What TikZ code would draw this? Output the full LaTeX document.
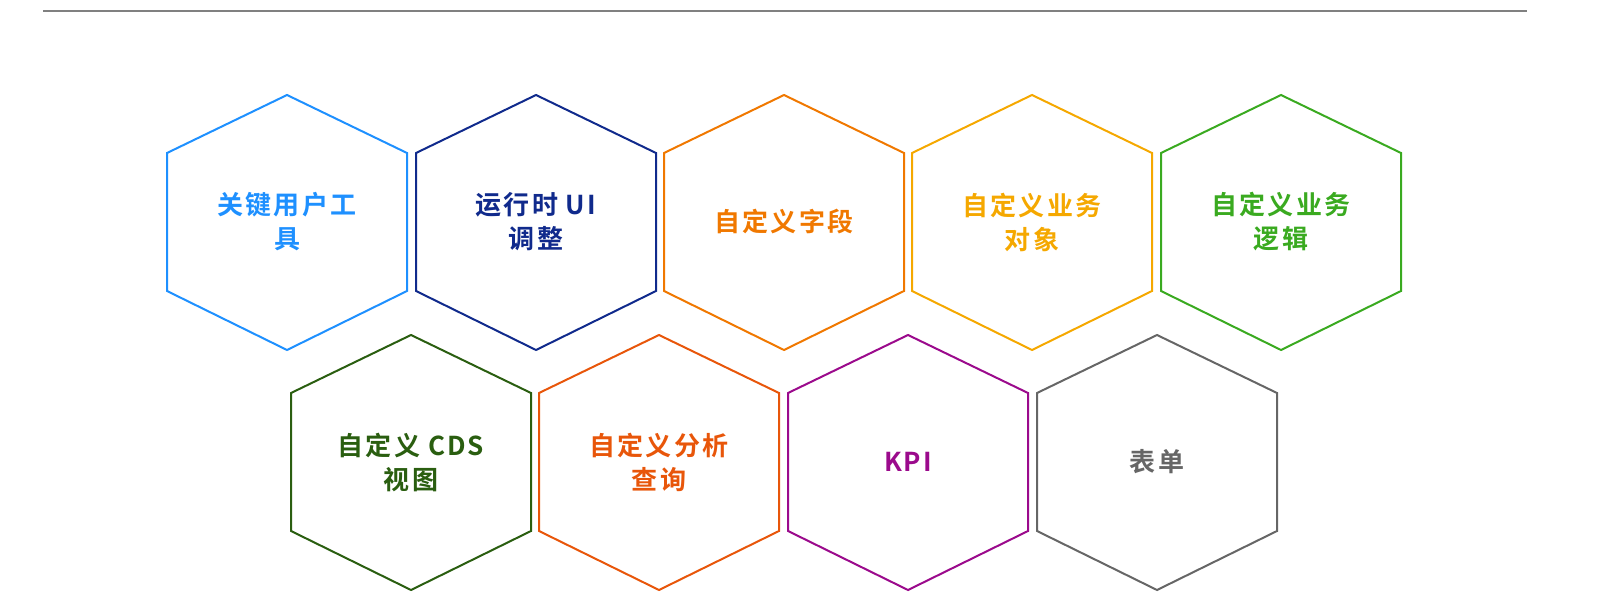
\documentclass[tikz,border=0pt]{standalone}
\usepackage{fontspec}
\setmainfont{Liberation Sans}
\newfontfamily\cjk{Noto Sans CJK SC}[BoldFont={Noto Sans CJK SC Bold},LetterSpace=8]
\usetikzlibrary{positioning}
\definecolor{colorkey}  {RGB}{ 30,144,255}
\definecolor{colorui}   {RGB}{ 16, 42,140}
\definecolor{colorfield}{RGB}{240,120,  0}
\definecolor{colorbo}   {RGB}{245,168,  0}
\definecolor{colorlogic}{RGB}{ 58,170, 32}
\definecolor{colorcds}  {RGB}{ 42, 94, 16}
\definecolor{colorquery}{RGB}{232, 86, 10}
\definecolor{colorkpi}  {RGB}{155, 10,140}
\definecolor{colorform} {RGB}{102,102,102}

\begin{document}
\begin{tikzpicture}[
    x=0.5pt, y=-0.5pt,
    hex/.style={line width=1pt},
    label/.style={font={\cjk\bfseries\fontsize{13}{17}\selectfont},align=center},
]
    \useasboundingbox (0,0) rectangle (1600,614);
    \draw[gray,line width=0.7pt] (43,11) -- (1527,11);

    % hexagon cells: name / centre x / centre y / colour / text
    \foreach \name/\cx/\cy/\col/\txt in {
        key/287/222/colorkey/{关键用户工\\具},
        ui/536/222/colorui/{运行时 UI\\调整},
        field/784/222/colorfield/{自定义字段},
        bo/1032/222/colorbo/{自定义业务\\对象},
        logic/1281/222/colorlogic/{自定义业务\\逻辑},
        cds/411/462/colorcds/{自定义 CDS\\视图},
        query/659/462/colorquery/{自定义分析\\查询},
        kpi/908/462/colorkpi/{KPI},
        form/1157/462/colorform/{表单}}
    {
        \draw[hex,draw=\col] (\cx,\cy) ++(0,-127) -- ++(120,58) -- ++(0,138)
            -- ++(-120,59) -- ++(-120,-59) -- ++(0,-138) -- cycle;
        \node[label,text=\col] (\name) at (\cx,\cy) {\txt};
    }
\end{tikzpicture}
\end{document}
